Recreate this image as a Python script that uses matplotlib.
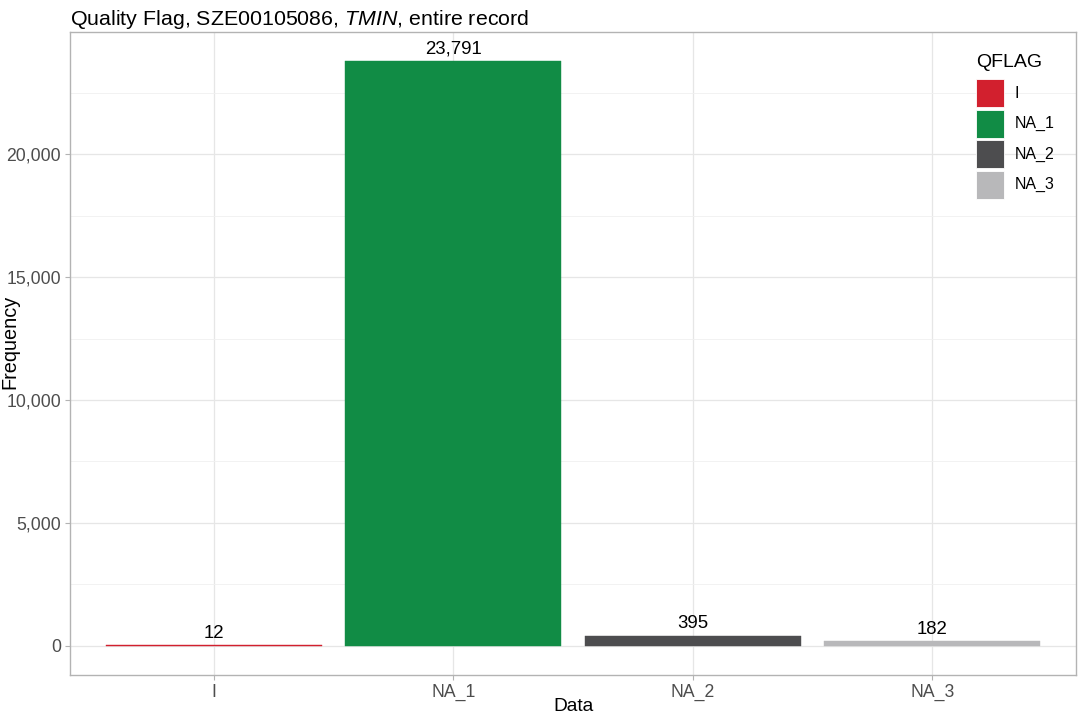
import matplotlib.pyplot as plt
from matplotlib.patches import Rectangle
from matplotlib.ticker import FuncFormatter, MultipleLocator

categories = ['I', 'NA_1', 'NA_2', 'NA_3']
counts = [12, 23791, 395, 182]
colors = ['#D2202E', '#118C45', '#4D4D4F', '#B8B8BA']

plt.rcParams['font.family'] = ['Liberation Sans', 'DejaVu Sans']
plt.rcParams['mathtext.fontset'] = 'custom'
plt.rcParams['mathtext.rm'] = 'Liberation Sans'
plt.rcParams['mathtext.it'] = 'Liberation Sans:italic'

W, H = 1084, 718
fig = plt.figure(figsize=(W / 100, H / 100), dpi=100)
ax = fig.add_axes([0.0646, 0.0599, 0.928, 0.8955])

x = range(len(categories))
ax.bar(x, counts, width=0.9, color=colors, edgecolor=colors, linewidth=0.3, zorder=3)
for xi, c in zip(x, counts):
    ax.text(xi, c + 150, f'{c:,}', ha='center', va='bottom', fontsize=13.4, zorder=4)

ax.set_xlim(-0.6, 3.6)
ax.set_ylim(-1190, 24981)
ax.set_xticks(list(x))
ax.set_xticklabels(categories)
ax.yaxis.set_major_locator(MultipleLocator(5000))
ax.yaxis.set_minor_locator(MultipleLocator(2500))
ax.yaxis.set_major_formatter(FuncFormatter(lambda v, p: f'{int(v):,}'))

ax.grid(which='major', color='#E6E6E6', linewidth=0.9, zorder=0)
ax.grid(which='minor', axis='y', color='#F0F0F0', linewidth=0.6, zorder=0)
ax.tick_params(which='major', length=3.5, color='#B3B3B3', labelsize=12.7, labelcolor='#4D4D4D', pad=3)
ax.tick_params(which='minor', length=0)
for s in ax.spines.values():
    s.set_color('#B3B3B3')
    s.set_linewidth(1.0)

ax.set_xlabel('Data', fontsize=13.8)
ax.xaxis.set_label_coords(0.5, -0.036)
ax.set_ylabel('Frequency', fontsize=14.3)
ax.yaxis.set_label_coords(-0.05, 0.518)
ax.set_title('Quality Flag, SZE00105086, $\\it{TMIN}$, entire record', fontsize=15.4, loc='left',
             pad=5)

# legend, laid out in figure pixels like the ggplot guide
def fx(px):
    return px / W

def fy(py):
    return 1 - py / H

fig.text(fx(976), fy(67), 'QFLAG', fontsize=14, va='baseline', ha='left')
for i, (lab, col) in enumerate(zip(categories, colors)):
    top = 79 + i * 30.5
    fig.add_artist(Rectangle((fx(976), fy(top + 28)), fx(28), 28 / H, transform=fig.transFigure,
                             facecolor=col, edgecolor='white', linewidth=0.6))
    fig.text(fx(1015), fy(top + 14), lab, fontsize=11.5, va='center', ha='left')

fig.savefig('out.png', dpi=100)
